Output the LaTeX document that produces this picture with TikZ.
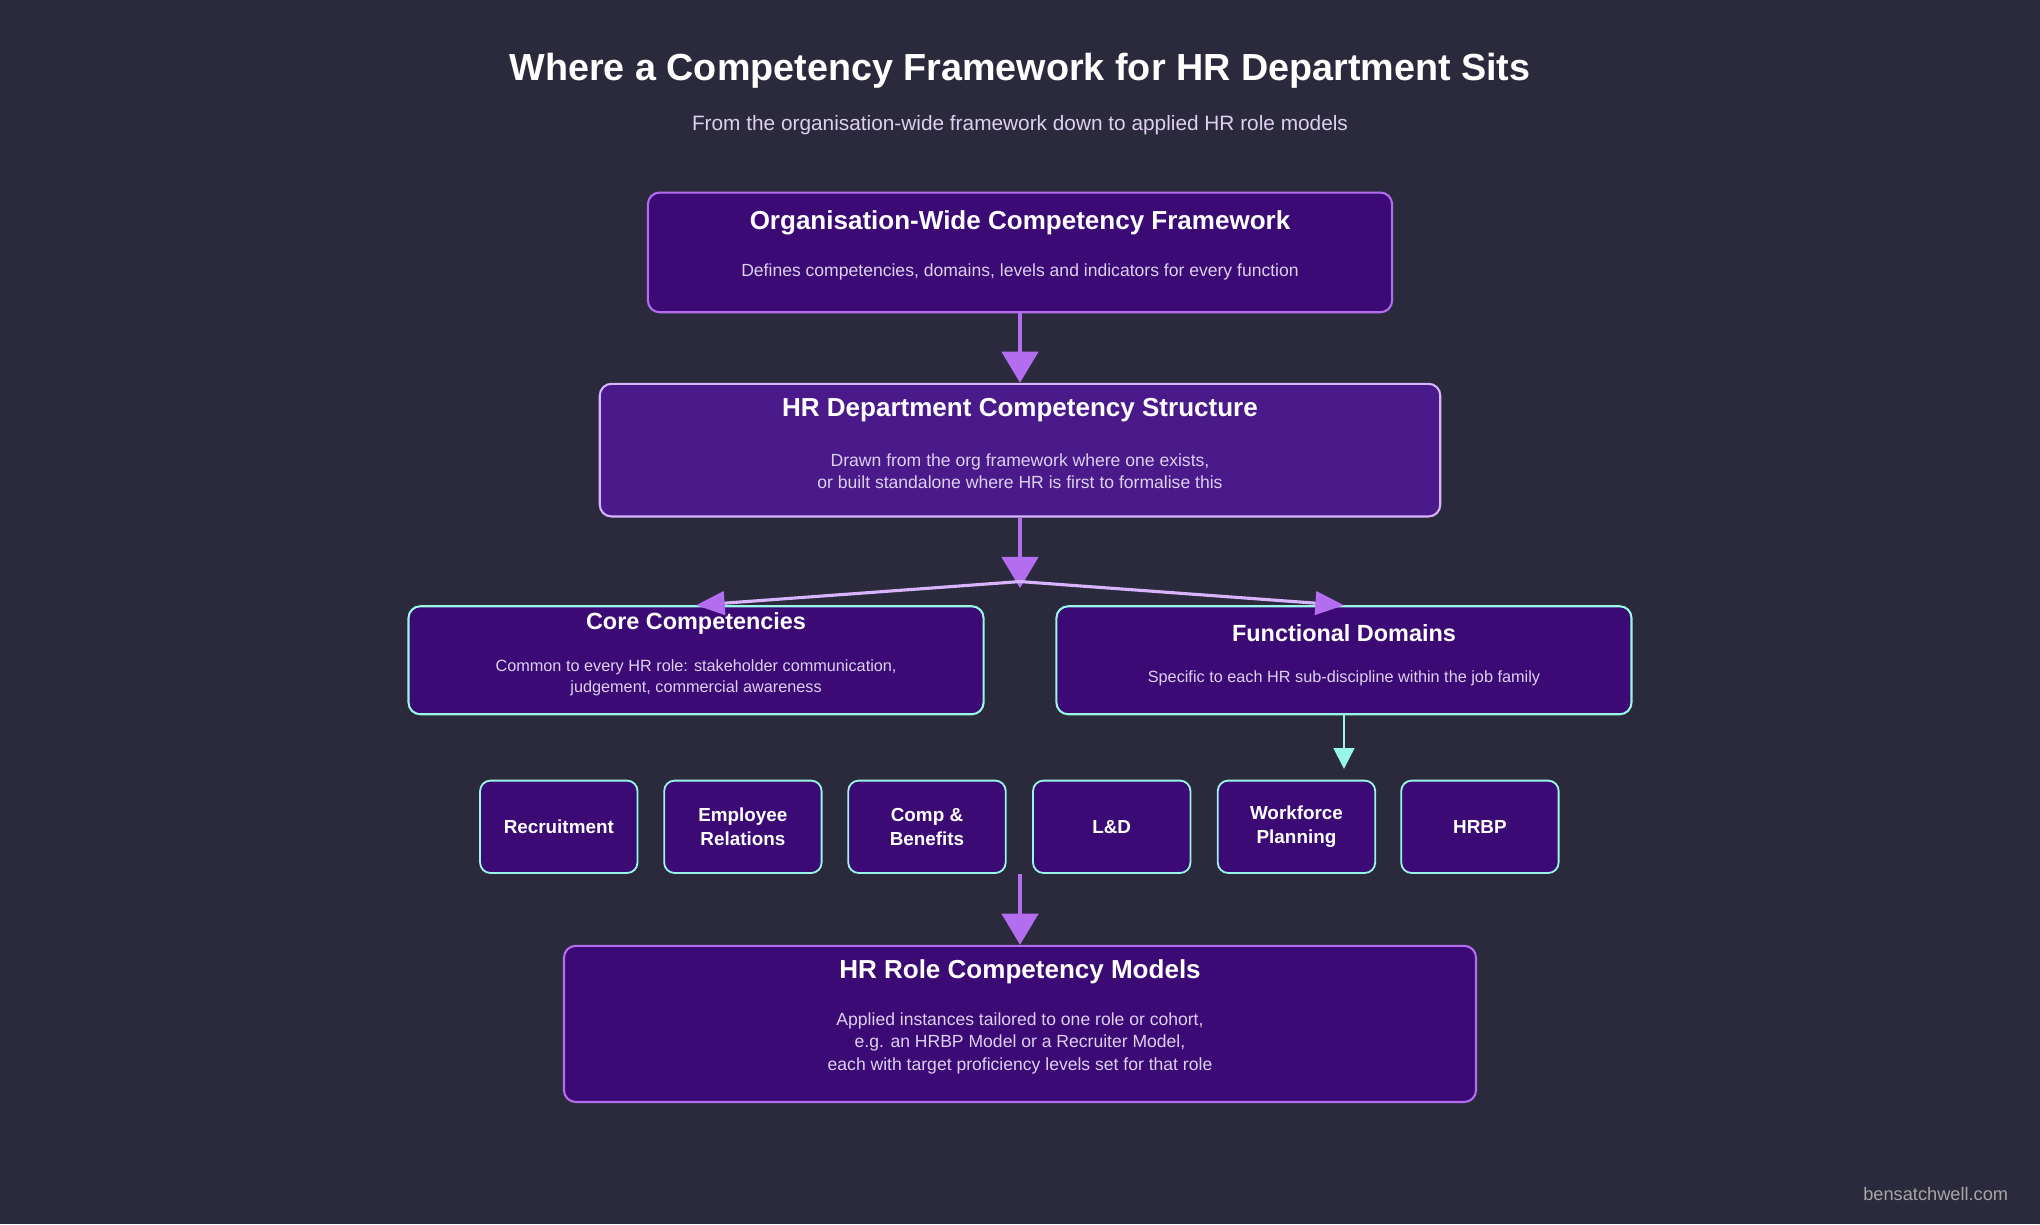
\documentclass[tikz,border=0pt]{standalone}
\usepackage{fontspec}
\setmainfont{Liberation Sans}
\usetikzlibrary{arrows.meta,positioning}
\definecolor{bg}{HTML}{2B2A3D}
\definecolor{deep}{HTML}{3B0A75}
\definecolor{mid}{HTML}{4A1A8A}
\definecolor{lav}{HTML}{B36EF0}
\definecolor{pale}{HTML}{D8B4FE}
\definecolor{teal}{HTML}{99F6E4}
\definecolor{desc}{HTML}{DDD0F0}
\tikzset{
    box/.style={draw=lav, line width=1.6pt, fill=deep, rounded corners=9pt, inner sep=0pt},
    ttl/.style={text=white, font=\bfseries\fontsize{20}{24}\selectfont},
    dsc/.style={text=desc, font=\fontsize{13.5}{17}\selectfont, align=center},
    flow/.style={draw=lav, line width=3pt, -{Triangle[width=28pt,length=24pt]}},
    small/.style={draw=teal, line width=1.4pt, fill=deep, rounded corners=8pt, minimum width=121pt, minimum height=71pt, text=white, align=center, font=\bfseries\fontsize{14.5}{18}\selectfont}
}
\begin{document}
\begin{tikzpicture}[x=1pt,y=-1pt]
    \fill[bg] (0,0) rectangle (1568,941);
    \node[text=white, font=\bfseries\fontsize{29}{34}\selectfont] (title) at (784,54) {Where a Competency Framework for HR Department Sits};
    \node[text=desc, font=\fontsize{16}{20}\selectfont] (subtitle) at (784,96) {From the organisation-wide framework down to applied HR role models};

    % organisation level
    \node[box, minimum width=572pt, minimum height=92pt] (org) at (784,194) {};
    \node[ttl] (orgt) at (784,171) {Organisation-Wide Competency Framework};
    \node[dsc] (orgd) at (784,209) {Defines competencies, domains, levels and indicators for every function};

    % hr department level
    \node[box, draw=pale, fill=mid, minimum width=646pt, minimum height=102pt] (hr) at (784,346) {};
    \node[ttl] (hrt) at (784,315) {HR Department Competency Structure};
    \node[dsc] (hrd) at (784,362) {Drawn from the org framework where one exists,\\or built standalone where HR is first to formalise this};

    % core and functional
    \node[box, draw=teal, minimum width=442pt, minimum height=83pt] (core) at (535,507.5) {};
    \node[ttl, font=\bfseries\fontsize{18}{22}\selectfont] (coret) at (535,479) {Core Competencies};
    \node[dsc, font=\fontsize{12.5}{16}\selectfont] (cored) at (535,521) {Common to every HR role: stakeholder communication,\\judgement, commercial awareness};
    \node[box, draw=teal, minimum width=442pt, minimum height=83pt] (func) at (1033,507.5) {};
    \node[ttl, font=\bfseries\fontsize{18}{22}\selectfont] (funct) at (1033,487) {Functional Domains};
    \node[dsc, font=\fontsize{12.5}{16}\selectfont] (funcd) at (1033,521) {Specific to each HR sub-discipline within the job family};

    % sub-disciplines
    \foreach \x/\name/\lbl in {429.5/rec/Recruitment, 571/er/Employee\\Relations, 712.5/cb/Comp \&\\Benefits, 854.5/ld/L\&D, 996.5/wp/Workforce\\Planning, 1137.5/hrbp/HRBP}
        \node[small] (\name) at (\x,635.5) {\lbl};

    % role models
    \node[box, minimum width=701pt, minimum height=120pt] (role) at (784,787) {};
    \node[ttl] (rolet) at (784,747) {HR Role Competency Models};
    \node[dsc] (roled) at (784,802) {Applied instances tailored to one role or cohort,\\e.g. an HRBP Model or a Recruiter Model,\\each with target proficiency levels set for that role};

    \node[text=gray!70, font=\fontsize{14}{17}\selectfont, anchor=east] (mark) at (1547,918) {bensatchwell.com};

    % connectors
    \coordinate (split) at (784,452);
    \coordinate (rowout) at (784,672);
    \draw[flow] (org) -- (hr);
    \draw[flow] (hr) -- (split);
    \draw[line width=2.4pt, pale, -{Triangle[width=18pt,length=22pt,lav]}] (784,447) -- (core.north);
    \draw[line width=2.4pt, pale, -{Triangle[width=18pt,length=22pt,lav]}] (784,447) -- (func.north);
    \draw[teal, line width=1.6pt, -{Triangle[width=16pt,length=16pt]}] (func) -- (1033,591);
    \draw[flow] (rowout) -- (role);
\end{tikzpicture}
\end{document}
